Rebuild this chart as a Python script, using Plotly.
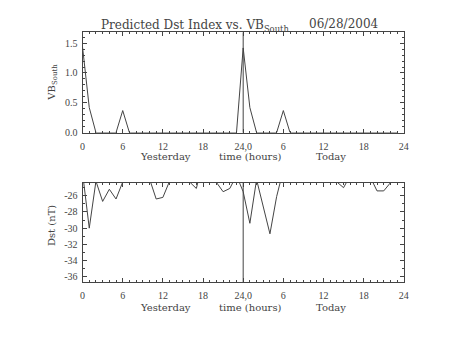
import plotly.graph_objects as go

hours = list(range(0, 48))
vb_south = [1.43, 0.42, 0, 0, 0, 0, 0.37, 0, 0, 0, 0, 0,
            0, 0, 0, 0, 0, 0, 0, 0, 0, 0, 0, 0,
            1.42, 0.42, 0, 0, 0, 0, 0.37, 0, 0, 0, 0, 0,
            0, 0, 0, 0, 0, 0, 0, 0, 0, 0, 0, 0]
dst = [-23.2, -30.0, -24.2, -26.7, -25.2, -26.4, -24.3, -23.6, -23.4, -23.6, -23.9, -26.4,
       -26.2, -24.2, -23.6, -23.8, -24.3, -25.1, -21.8, -23.2, -24.3, -25.5, -25.1, -23.5,
       -25.5, -29.4, -24.0, -27.4, -30.7, -26.1, -22.8, -23.6, -23.5, -23.4, -23.5, -23.6,
       -23.5, -23.6, -24.3, -25.0, -23.5, -23.4, -23.6, -23.7, -25.4, -25.4, -24.4, -23.8]

x_tickvals = [0, 6, 12, 18, 24, 30, 36, 42, 48]
x_ticktext = ["0", "6", "12", "18", "24,0", "6", "12", "18", "24"]
vb_tickvals = [0, 0.5, 1.0, 1.5]
vb_ticktext = ["0.0", "0.5", "1.0", "1.5"]
dst_tickvals = [-36, -34, -32, -30, -28, -26]
dst_ticktext = ["-36", "-34", "-32", "-30", "-28", "-26"]
title_main = "Predicted Dst Index vs. VB<sub>South</sub>"
title_date = "06/28/2004"

W, H = 453, 340
C = "#444444"
TC = "#444444"
TF = dict(family="Liberation Serif", size=10, color=TC)

fig = go.Figure()
fig.add_trace(go.Scatter(x=hours, y=vb_south, mode="lines", line=dict(color=C, width=1),
                         xaxis="x", yaxis="y", showlegend=False))
fig.add_trace(go.Scatter(x=hours, y=dst, mode="lines", line=dict(color=C, width=1),
                         xaxis="x2", yaxis="y2", showlegend=False))

def px_x(p):
    return p / W

def px_y(p):
    return 1 - p / H

xdom = [px_x(81), px_x(408)]
common_x = dict(range=[0, 48], tickmode="array", tickvals=x_tickvals, ticktext=x_ticktext,
                ticks="inside", ticklen=4, tickcolor=C, showline=True, linecolor=C, linewidth=1,
                mirror="allticks", showgrid=False, zeroline=False, tickfont=TF,
                ticklabelstandoff=4,
                minor=dict(ticks="inside", dtick=1, tick0=0, ticklen=2, tickcolor=C, showgrid=False))
common_y = dict(ticks="inside", ticklen=4, tickcolor=C, showline=True, linecolor=C, linewidth=1,
                mirror="allticks", showgrid=False, zeroline=False, tickfont=TF, tickmode="array",
                ticklabelstandoff=2)

fig.update_layout(
    width=W, height=H, margin=dict(l=0, r=0, t=0, b=0),
    paper_bgcolor="white", plot_bgcolor="white",
    xaxis=dict(domain=xdom, anchor="y", **common_x),
    yaxis=dict(domain=[px_y(135), px_y(33)], anchor="x", range=[0, 1.68],
               tickvals=vb_tickvals, ticktext=vb_ticktext,
               minor=dict(ticks="inside", dtick=0.1, tick0=0, ticklen=2, tickcolor=C, showgrid=False),
               **common_y),
    xaxis2=dict(domain=xdom, anchor="y2", **common_x),
    yaxis2=dict(domain=[px_y(287.3), px_y(186)], anchor="x2", range=[-36.68, -24.39],
                tickvals=dst_tickvals, ticktext=dst_ticktext,
                minor=dict(ticks="inside", dtick=1, tick0=0, ticklen=2, tickcolor=C, showgrid=False),
                **common_y),
)

for xr, yr in (("x", "y"), ("x2", "y2")):
    fig.add_shape(type="line", xref=xr, yref=yr + " domain", x0=24, x1=24, y0=0, y1=1,
                  line=dict(color=C, width=1))

ann = []
ann.append(dict(text=title_main, x=px_x(293), y=px_y(26), xref="paper", yref="paper",
                xanchor="right", yanchor="middle", showarrow=False,
                font=dict(family="DejaVu Serif", size=12, color=TC)))
ann.append(dict(text=title_date, x=px_x(309), y=px_y(24), xref="paper", yref="paper",
                xanchor="left", yanchor="middle", showarrow=False,
                font=dict(family="DejaVu Serif", size=12, color=TC)))
for ypix in (159, 313):
    for txt, xc in (("Yesterday", 165), ("time (hours)", 252), ("Today", 334)):
        ann.append(dict(text=txt, x=px_x(xc), y=px_y(ypix), xref="paper", yref="paper",
                        xanchor="center", yanchor="middle", showarrow=False,
                        font=dict(family="DejaVu Serif", size=10, color=TC)))
ann.append(dict(text="VB<sub>South</sub>", x=px_x(50), y=px_y(84), xref="paper", yref="paper",
                xanchor="center", yanchor="middle", showarrow=False, textangle=-90,
                font=dict(family="DejaVu Serif", size=10, color=TC)))
ann.append(dict(text="Dst (nT)", x=px_x(50), y=px_y(230), xref="paper", yref="paper",
                xanchor="center", yanchor="middle", showarrow=False, textangle=-90,
                font=dict(family="DejaVu Serif", size=10, color=TC)))
fig.update_layout(annotations=ann)

fig.write_html("out.html")
